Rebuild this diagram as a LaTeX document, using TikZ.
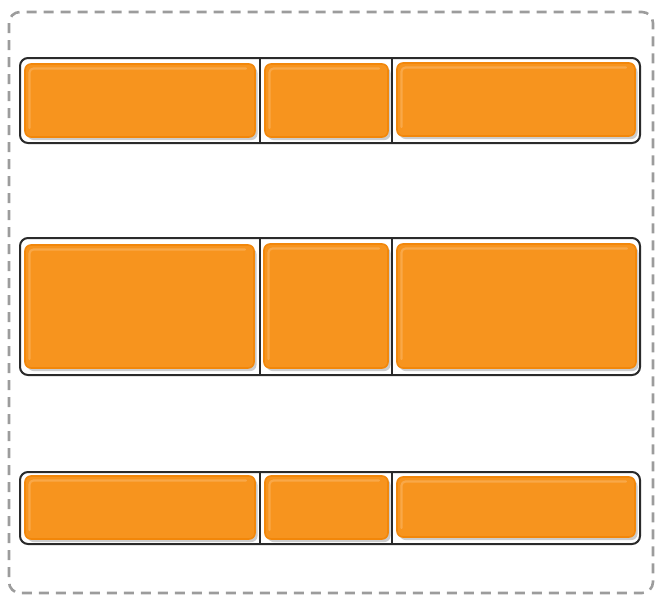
\documentclass[tikz,border=0pt]{standalone}
\usetikzlibrary{shadows}
\definecolor{orangefill}{HTML}{F7941E}
\definecolor{orangeedge}{HTML}{F2870A}
\definecolor{orangelight}{HTML}{F9A848}
\definecolor{shadowgray}{HTML}{CCCCCC}
\definecolor{dashgray}{HTML}{9C9C9C}
\definecolor{framecol}{HTML}{2A2A2A}
\newcommand\cellbox[5]{%
  \node[cell, minimum width=#4pt-#2pt, minimum height=#5pt-#3pt] (#1) at (#2,#3) {};}
\newcommand\rowframe[5]{%
  \node[rowbox, minimum width=#4pt-#2pt, minimum height=#5pt-#3pt] (#1) at (#2,#3) {};}
\begin{document}
\begin{tikzpicture}[x=1pt,y=-1pt,
  cell/.style={draw=orangeedge, line width=1.6pt, fill=orangefill,
    rounded corners=6pt, inner sep=0pt, outer sep=0pt, anchor=north west,
    drop shadow={shadow xshift=2.5pt, shadow yshift=-3pt, fill=shadowgray, opacity=1},
    path picture={
      \draw[orangelight, line width=2.2pt, rounded corners=4pt, line cap=round]
        ([xshift=4.5pt, yshift=9pt]path picture bounding box.south west)
        -- ([xshift=4.5pt, yshift=-4.5pt]path picture bounding box.north west)
        -- ([xshift=-9pt, yshift=-4.5pt]path picture bounding box.north east);
    }},
  rowbox/.style={draw=framecol, line width=2pt, fill=white, rounded corners=8pt,
    inner sep=0pt, outer sep=0pt, anchor=north west},
  divider/.style={draw=framecol, line width=1.8pt},
  outerbox/.style={draw=dashgray, line width=2.6pt, dash pattern=on 10pt off 7pt, rounded corners=11pt}
]
\useasboundingbox (0,0) rectangle (664,605);
\draw[outerbox] (9,12) rectangle (653,593);

% Row 1
\rowframe{r1}{20}{58}{640}{143}
\coordinate (d1a) at (260,58); \coordinate (d1b) at (260,143);
\coordinate (d1c) at (392,58); \coordinate (d1d) at (392,143);
\draw[divider] (d1a) -- (d1b);
\draw[divider] (d1c) -- (d1d);
\cellbox{c11}{25}{64}{255}{137}
\cellbox{c12}{265}{64}{388}{137}
\cellbox{c13}{397}{63}{635}{136}

% Row 2
\rowframe{r2}{20}{238}{640}{375}
\coordinate (d2a) at (260,238); \coordinate (d2b) at (260,375);
\coordinate (d2c) at (392,238); \coordinate (d2d) at (392,375);
\draw[divider] (d2a) -- (d2b);
\draw[divider] (d2c) -- (d2d);
\cellbox{c21}{25}{245}{254}{368}
\cellbox{c22}{264}{244}{388}{368}
\cellbox{c23}{397}{244}{636}{368}

% Row 3
\rowframe{r3}{20}{472}{640}{544}
\coordinate (d3a) at (260,472); \coordinate (d3b) at (260,544);
\coordinate (d3c) at (392,472); \coordinate (d3d) at (392,544);
\draw[divider] (d3a) -- (d3b);
\draw[divider] (d3c) -- (d3d);
\cellbox{c31}{25}{476}{255}{539}
\cellbox{c32}{265}{476}{388}{539}
\cellbox{c33}{397}{477}{635}{537}
\end{tikzpicture}
\end{document}
